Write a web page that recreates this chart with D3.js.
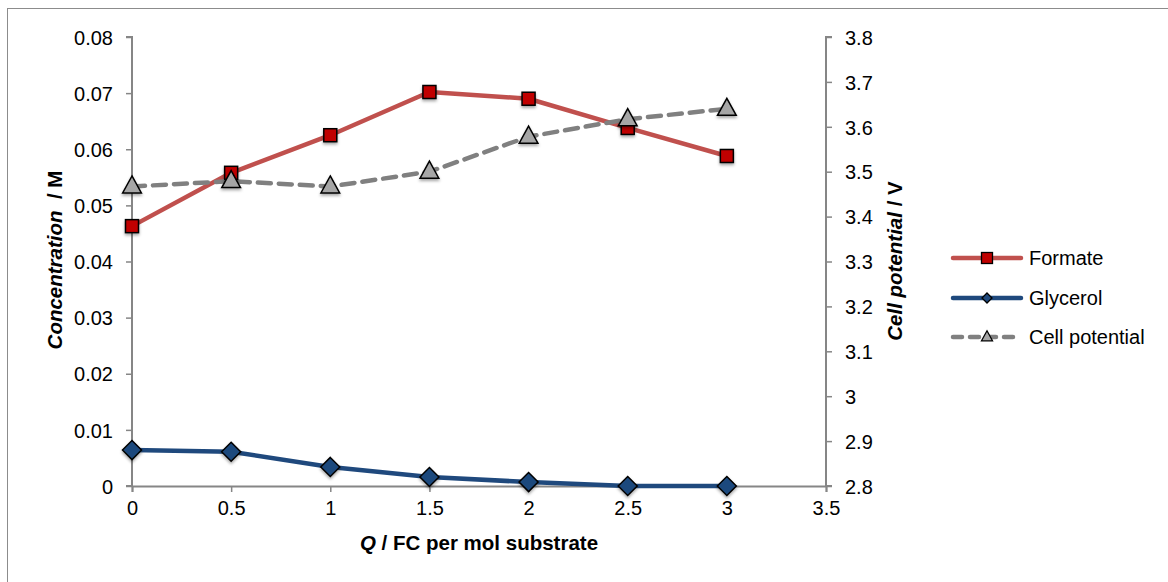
<!DOCTYPE html>
<html>
<head>
<meta charset="utf-8">
<script src="https://d3js.org/d3.v7.min.js"></script>
<style>
body{ margin:0; background:#fff; }
svg{ display:block; }
svg text{ font-family:"Liberation Sans", Arial, sans-serif; white-space:pre; }
</style>
</head>
<body>
<script>
// data
var charge = [0, 0.5, 1, 1.5, 2, 2.5, 3];
var formate = [0.0463, 0.0558, 0.0625, 0.0702, 0.0690, 0.0638, 0.0588];
var glycerol = [0.0064, 0.0061, 0.0034, 0.0016, 0.0007, 0.0000, 0.0000];
var cellPotential = [3.467, 3.479, 3.467, 3.500, 3.578, 3.617, 3.640];
var xTicks = [0, 0.5, 1, 1.5, 2, 2.5, 3, 3.5];
var leftTicks = [0, 0.01, 0.02, 0.03, 0.04, 0.05, 0.06, 0.07, 0.08];
var rightTicks = [2.8, 2.9, 3, 3.1, 3.2, 3.3, 3.4, 3.5, 3.6, 3.7, 3.8];

var W = 1168, H = 582;
var svg = d3.select("body").append("svg").attr("width", W).attr("height", H);

var defs = svg.append("defs");
var f = defs.append("filter").attr("id", "shadow").attr("x", "-50%").attr("y", "-50%").attr("width", "200%").attr("height", "200%");
f.append("feDropShadow").attr("dx", 0).attr("dy", 2).attr("stdDeviation", 1.5).attr("flood-color", "#000").attr("flood-opacity", 0.35);

// outer frame
svg.append("rect").attr("x", 7.5).attr("y", 8.5).attr("width", W + 20).attr("height", H + 20)
  .attr("fill", "none").attr("stroke", "#8c8c8c").attr("stroke-width", 1);

var x = d3.scaleLinear().domain([0, 3.5]).range([132, 826]);
var yL = d3.scaleLinear().domain([0, 0.08]).range([486, 37]);
var yR = d3.scaleLinear().domain([2.8, 3.8]).range([486, 37]);

var axisColor = "#868686";

var gx = svg.append("g").attr("transform", "translate(0,486)")
  .call(d3.axisBottom(x).tickValues(xTicks).tickSize(6).tickPadding(9).tickFormat(d3.format("")));
var gl = svg.append("g").attr("transform", "translate(132,0)")
  .call(d3.axisLeft(yL).tickValues(leftTicks).tickSize(6).tickPadding(13).tickFormat(function(d){ return d === 0 ? "0" : d3.format(".2f")(d); }));
var gr = svg.append("g").attr("transform", "translate(826,0)")
  .call(d3.axisRight(yR).tickValues(rightTicks).tickSize(6).tickPadding(13).tickFormat(function(d){ return d === 3 ? "3" : d3.format(".1f")(d); }));

[gx, gl, gr].forEach(function(g){
  g.attr("font-family", null).attr("font-size", null);
  g.select(".domain").attr("stroke", axisColor).attr("stroke-width", 2);
  g.selectAll(".tick line").attr("stroke", axisColor).attr("stroke-width", 1.5);
  g.selectAll(".tick text").attr("fill", "#000").style("font-size", "20px");
});
gl.selectAll(".tick text").attr("dy", "0.36em");
gr.selectAll(".tick text").attr("dy", "0.36em");
gx.selectAll(".tick text").attr("dy", "0.72em");
gr.selectAll(".domain").attr("d", "M6,37H0V486H6");
gl.selectAll(".domain").attr("d", "M-6,37H0V486H-6");

// axis titles
var xt = svg.append("text").attr("x", 479).attr("y", 550).attr("text-anchor", "middle")
  .style("font-size", "20.5px").style("font-weight", "bold");
xt.append("tspan").style("font-style", "italic").text("Q");
xt.append("tspan").text(" / FC per mol substrate");

var lt = svg.append("text").attr("transform", "translate(62,260) rotate(-90)").attr("text-anchor", "middle")
  .style("font-size", "20.5px").style("font-weight", "bold");
lt.append("tspan").style("font-style", "italic").text("Concentration");
lt.append("tspan").text("  / M");

var rt = svg.append("text").attr("transform", "translate(902,261) rotate(-90)").attr("text-anchor", "middle")
  .style("font-size", "20.5px").style("font-weight", "bold");
rt.append("tspan").style("font-style", "italic").text("Cell potential");
rt.append("tspan").text(" / V");

var pts = function(vals, scale){ return charge.map(function(c, i){ return [x(c), scale(vals[i])]; }); };
var line = d3.line();

var series = [
  {name: "Formate", vals: formate, scale: yL, color: "#C0504D", dash: null, marker: "square", fill: "#C00000"},
  {name: "Glycerol", vals: glycerol, scale: yL, color: "#1F497D", dash: null, marker: "diamond", fill: "#1F497D"},
  {name: "Cell potential", vals: cellPotential, scale: yR, color: "#808080", dash: "13,8", marker: "triangle", fill: "#A6A6A6"}
];

function marker(g, type, cx, cy, size, fill, sw){
  var s = size;
  if (type === "square") {
    g.append("rect").attr("x", cx - s/2).attr("y", cy - s/2).attr("width", s).attr("height", s)
      .attr("fill", fill).attr("stroke", "#000").attr("stroke-width", sw);
  } else if (type === "diamond") {
    g.append("path").attr("d", "M" + cx + "," + (cy - s/2) + "L" + (cx + s/2) + "," + cy + "L" + cx + "," + (cy + s/2) + "L" + (cx - s/2) + "," + cy + "Z")
      .attr("fill", fill).attr("stroke", "#000").attr("stroke-width", sw);
  } else {
    g.append("path").attr("d", "M" + cx + "," + (cy - s*0.62) + "L" + (cx + s*0.55) + "," + (cy + s*0.38) + "L" + (cx - s*0.55) + "," + (cy + s*0.38) + "Z")
      .attr("fill", fill).attr("stroke", "#000").attr("stroke-width", sw);
  }
}

var sizes = {square: 13, diamond: 19, triangle: 17};

series.forEach(function(s){
  svg.append("path").attr("d", line(pts(s.vals, s.scale))).attr("fill", "none")
    .attr("stroke", s.color).attr("stroke-width", 4.5).attr("stroke-dasharray", s.dash)
    .attr("stroke-linecap", "round").attr("stroke-linejoin", "round");
});
series.forEach(function(s){
  var g = svg.append("g").attr("filter", "url(#shadow)");
  pts(s.vals, s.scale).forEach(function(p){ marker(g, s.marker, p[0], p[1], sizes[s.marker], s.fill, 1.5); });
});

// legend
var legY = [258, 298, 337];
series.forEach(function(s, i){
  var g = svg.append("g");
  g.append("line").attr("x1", 953).attr("x2", 1021).attr("y1", legY[i]).attr("y2", legY[i])
    .attr("stroke", s.color).attr("stroke-width", 4.5).attr("stroke-linecap", "round")
    .attr("stroke-dasharray", s.dash ? "9,8" : null);
  marker(g, s.marker, 987, legY[i], s.marker === "square" ? 11 : 10, s.fill, 1.3);
  g.append("text").attr("x", 1029).attr("y", legY[i]).attr("dy", "0.36em")
    .style("font-size", "20px").text(s.name);
});
</script>
</body>
</html>
